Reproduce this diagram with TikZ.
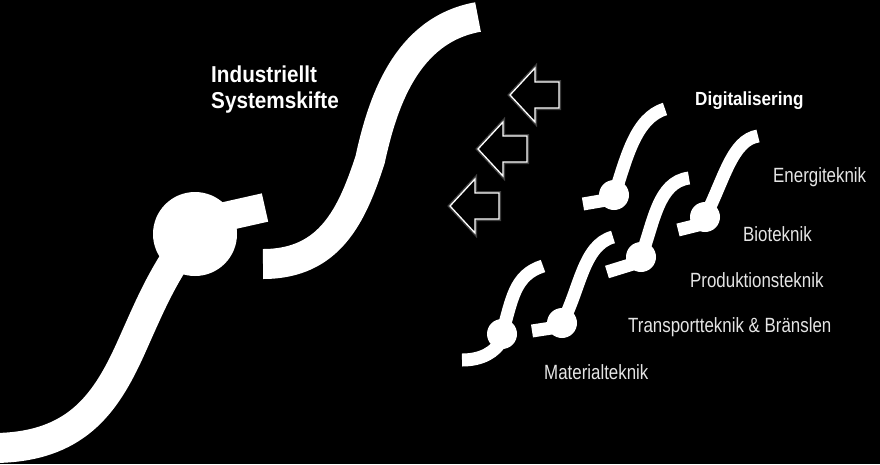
\documentclass[tikz,border=0pt]{standalone}
\usepackage{fontspec}
\setmainfont{Liberation Sans}
\newfontfamily\lblfont[FakeStretch=0.82]{Liberation Sans}
\newfontfamily\hdrfont[FakeStretch=0.9]{Liberation Sans}
\tikzset{
  bigband/.style={draw=white, line width=30pt, line cap=butt},
  smallband/.style={draw=white, line width=13pt, line cap=butt},
  bigball/.style={circle, fill=white, inner sep=0pt, minimum size=84pt},
  smallball/.style={circle, fill=white, inner sep=0pt, minimum size=30pt},
  lbltext/.style={text=white!90!black, font=\lblfont\fontsize{20.6}{24}\selectfont, inner sep=0pt, anchor=base west},
  hdrtext/.style={text=white, font=\hdrfont\bfseries\fontsize{23}{26.5}\selectfont, inner sep=0pt, anchor=base west, align=left},
  glowline/.style={draw=white!55!black, line width=4pt, opacity=0.45, line join=miter},
  outline/.style={draw=white, line width=1.3pt, fill=black, line join=miter},
  hollowarrow/.pic={
    \draw[glowline] (0,0) -- (25,-27) -- (25,-13) -- (49,-13) -- (49,13) -- (25,13) -- (25,27) -- cycle;
    \draw[outline] (0,0) -- (25,-27) -- (25,-13) -- (49,-13) -- (49,13) -- (25,13) -- (25,27) -- cycle;
  }
}
\begin{document}
\begin{tikzpicture}[x=1pt, y=-1pt]
  \useasboundingbox (0,0) rectangle (880,464);
  \fill[black] (0,0) rectangle (880,464);

  % big left curve with ball and stub
  \draw[bigband] (-5,448) .. controls (75,447) and (105,405) .. (130,350)
                 .. controls (148,310) and (158,285) .. (180,252);
  \draw[line width=29pt, draw=white, line cap=butt] (205,221) -- (265,207.5);
  \node[bigball] (mainball) at (195,234) {};

  % big right curve
  \draw[bigband] (263,264) .. controls (330,264) and (352,215) .. (370,160)
                 .. controls (382,105) and (405,30) .. (478,17);

  % hollow arrows
  \pic at (510,95) {hollowarrow};
  \pic at (478,149) {hollowarrow};
  \pic at (450,206) {hollowarrow};

  % small curve D
  \draw[smallband] (583,204) -- (612,199);
  \draw[smallband] (614,196) .. controls (626,160) and (635,118) .. (665,109);
  \node[smallball] (ballD) at (614,195) {};

  % small curve E
  \draw[smallband] (678,230) -- (702,224);
  \draw[smallband] (705,217) .. controls (724,180) and (732,140) .. (758,136);
  \node[smallball] (ballE) at (705,217) {};

  % small curve P
  \draw[smallband] (607,272) -- (636,263);
  \draw[smallband] (641,257) .. controls (654,222) and (658,182) .. (689,178);
  \node[smallball] (ballP) at (641,257) {};

  % small curve T
  \draw[smallband] (532,331) -- (558,327);
  \draw[smallband] (562,323) .. controls (580,290) and (583,245) .. (613,237);
  \node[smallball] (ballT) at (562,323) {};

  % small curve M
  \draw[smallband] (462,360) .. controls (482,360) and (495,352) .. (502,340);
  \draw[smallband] (502,334) .. controls (512,300) and (514,275) .. (543,266);
  \node[smallball] (ballM) at (502,334) {};

  % texts
  \node[hdrtext] (title) at (211,108.5) {Industriellt\\Systemskifte};
  \node[hdrtext, font=\hdrfont\bfseries\fontsize{19}{22}\selectfont] (digi) at (695,105) {Digitalisering};
  \node[lbltext] (energi) at (773,182) {Energiteknik};
  \node[lbltext] (bio) at (743,241) {Bioteknik};
  \node[lbltext] (prod) at (690,287) {Produktionsteknik};
  \node[lbltext] (trans) at (628,332) {Transportteknik \& Bränslen};
  \node[lbltext] (mat) at (544,379) {Materialteknik};
\end{tikzpicture}
\end{document}
